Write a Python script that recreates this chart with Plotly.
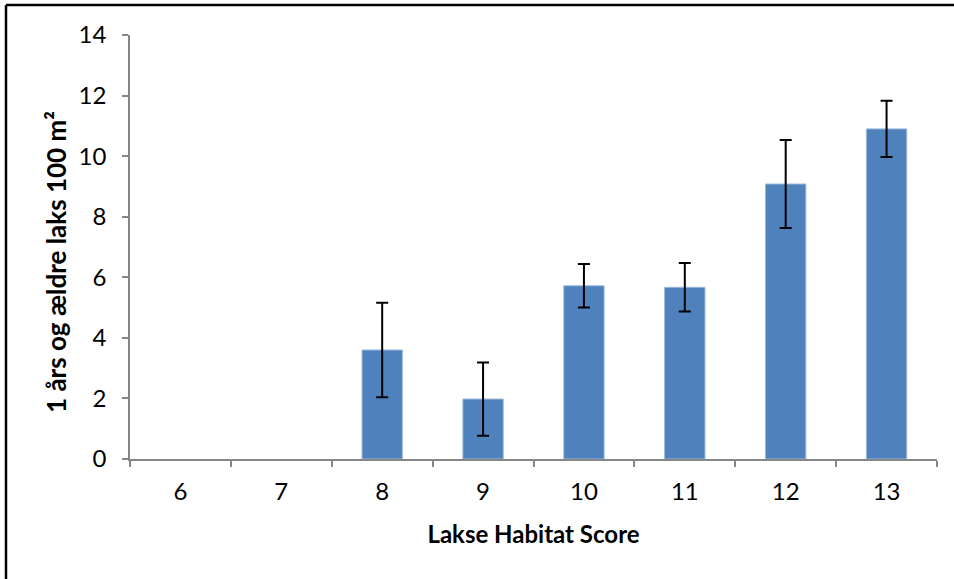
import plotly.graph_objects as go

scores = ["6", "7", "8", "9", "10", "11", "12", "13"]
density = [None, None, 3.6, 1.98, 5.72, 5.67, 9.08, 10.9]
err = [None, None, 1.56, 1.21, 0.72, 0.8, 1.45, 0.93]

W, H = 954, 579
L, R, T, B = 130, 17, 35, 120
pw, ph = W - L - R, H - T - B
font = "Lato, Calibri, sans-serif"

fig = go.Figure()
fig.add_trace(go.Bar(
    x=scores, y=density,
    marker=dict(color="#4F81BD", line=dict(color="#9DB9DD", width=1)),
    error_y=dict(type="data", array=err, visible=True,
                 color="black", thickness=2, width=6),
))

fig.update_layout(
    width=W, height=H,
    margin=dict(l=L, r=R, t=T, b=B),
    plot_bgcolor="white", paper_bgcolor="white",
    bargap=0.6, showlegend=False,
    font=dict(family=font, size=24, color="black"),
    xaxis=dict(
        type="category", tickson="boundaries",
        ticks="outside", ticklen=6, tickcolor="#868686", tickwidth=1.5,
        ticklabelstandoff=10,
        showline=True, linecolor="#868686", linewidth=1.5,
        showgrid=False, zeroline=False,
        title=dict(text="<b>Lakse Habitat Score</b>", standoff=23,
                   font=dict(size=24)),
    ),
    yaxis=dict(
        range=[0, 14], dtick=2,
        ticks="outside", ticklen=6, tickcolor="#868686", tickwidth=1.5,
        ticklabelstandoff=11,
        showline=True, linecolor="#868686", linewidth=1.5,
        showgrid=False, zeroline=False,
    ),
    annotations=[dict(
        text="<b>1 års og ældre laks 100 m²</b>",
        textangle=-90, xref="paper", yref="paper",
        x=(56 - L) / pw, y=1 - (262 - T) / ph, xanchor="center", yanchor="middle",
        showarrow=False, font=dict(size=26),
    )],
    shapes=[
        dict(type="line", xref="paper", yref="paper",
             x0=(6 - L) / pw, x1=(W + 10 - L) / pw,
             y0=1 + (T - 5) / ph, y1=1 + (T - 5) / ph,
             line=dict(color="black", width=2.5)),
        dict(type="line", xref="paper", yref="paper",
             x0=(6 - L) / pw, x1=(6 - L) / pw,
             y0=1 + (T - 5) / ph, y1=-(B + 10) / ph,
             line=dict(color="black", width=2.5)),
    ],
)

fig.write_html("out.html", config={"displayModeBar": False},
               post_script="document.body.style.margin='0';")
